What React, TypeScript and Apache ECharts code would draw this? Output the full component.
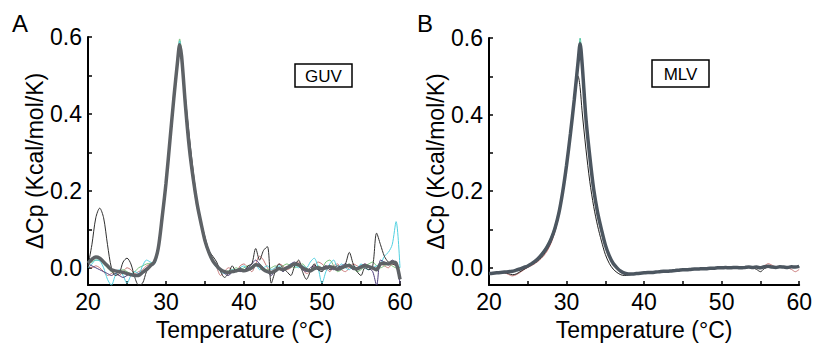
import React, { useEffect, useRef } from "react";
import * as echarts from "echarts";

// Temperatures (°C) shared by all traces
const temps = [
  20, 20.5, 21, 21.5, 22, 22.5, 23, 23.5, 24, 24.5,
  25, 25.5, 26, 26.5, 27, 27.5, 28, 28.5, 29, 29.5,
  30, 30.5, 31, 31.5, 31.75, 32, 32.5, 33, 33.5, 34, 34.5,
  35, 35.5, 36, 36.5, 37, 37.5, 38, 38.5, 39, 39.5,
  40, 40.5, 41, 41.5, 42, 42.5, 43, 43.5, 44, 44.5,
  45, 45.5, 46, 46.5, 47, 47.5, 48, 48.5, 49, 49.5,
  50, 50.5, 51, 51.5, 52, 52.5, 53, 53.5, 54, 54.5,
  55, 55.5, 56, 56.5, 57, 57.5, 58, 58.5, 59, 59.5,
  60,
];

// Panel A (GUV)
const guvMean = [
  0.012, 0.022, 0.028, 0.025, 0.015, 0.005, -0.005, -0.008, -0.01, -0.012,
  -0.015, -0.018, -0.02, -0.02, -0.012, -0.005, 0.005, 0.015, 0.05, 0.13,
  0.22, 0.33, 0.44, 0.54, 0.58, 0.55, 0.42, 0.31, 0.23, 0.165, 0.115,
  0.07, 0.04, 0.018, 0.005, -0.005, -0.01, -0.012, -0.01, -0.008, -0.005,
  -0.008, -0.005, 0.0, 0.008, 0.005, -0.005, -0.01, -0.012, -0.008, -0.002,
  -0.005, 0.0, 0.005, 0.01, 0.008, 0.0, -0.005, -0.008, -0.002, 0.0,
  -0.003, 0.0, 0.003, 0.0, -0.004, 0.0, 0.004, 0.006, 0.0, -0.003,
  0.002, 0.005, 0.003, 0.0, -0.005, 0.01, 0.012, 0.01, 0.015, 0.012,
  -0.03,
];
const guvBlack = [
  0.005, 0.06, 0.13, 0.155, 0.13, 0.06, 0.0, -0.02, -0.015, 0.015,
  0.025, 0.01, -0.025, -0.045, -0.04, -0.01, 0.005, 0.01, 0.05, 0.13,
  0.22, 0.33, 0.44, 0.54, 0.575, 0.55, 0.44, 0.34, 0.25, 0.17, 0.12,
  0.08, 0.045, 0.03, 0.015, -0.01, -0.025, -0.015, 0.005, -0.01, 0.0,
  -0.01, 0.005, 0.01, 0.05, 0.02, 0.045, 0.055, -0.04, -0.01, 0.01,
  0.0, -0.01, -0.02, 0.005, 0.02, -0.01, -0.03, -0.01, 0.01, -0.005,
  -0.01, 0.005, -0.005, 0.0, 0.005, 0.0, 0.01, 0.04, 0.01, -0.01,
  -0.02, 0.0, -0.005, 0.005, 0.09, 0.06, 0.03, 0.015, 0.01, 0.005,
  -0.03,
];
const guvCyan = [
  0.0, 0.01, 0.02, 0.018, 0.0, -0.03, -0.045, -0.02, -0.005, -0.02,
  -0.04, -0.02, -0.01, -0.015, 0.005, 0.02, 0.015, 0.01, 0.05, 0.13,
  0.22, 0.33, 0.44, 0.545, 0.59, 0.55, 0.42, 0.31, 0.23, 0.16, 0.11,
  0.065, 0.035, 0.015, 0.0, -0.01, -0.015, -0.01, -0.005, -0.01, 0.0,
  0.005, -0.005, 0.0, 0.01, -0.005, 0.0, 0.005, -0.005, 0.0, 0.005,
  -0.005, 0.0, 0.01, 0.005, 0.0, 0.005, 0.0, 0.015, 0.025, 0.0,
  -0.04, -0.01, 0.01, 0.02, 0.0, 0.01, 0.0, -0.005, 0.005, 0.0,
  0.01, 0.0, -0.005, 0.0, 0.005, 0.01, 0.03, 0.04, 0.06, 0.12,
  0.0,
];
const guvRed = [
  0.005, 0.0, 0.005, 0.0, -0.01, -0.02, -0.015, -0.01, -0.02, -0.01,
  0.0, -0.005, -0.015, -0.01, -0.005, 0.005, 0.01, 0.015, 0.05, 0.13,
  0.22, 0.33, 0.44, 0.54, 0.58, 0.55, 0.43, 0.32, 0.22, 0.155, 0.11,
  0.065, 0.035, 0.015, 0.0, -0.02, -0.01, 0.0, -0.005, -0.01, 0.005,
  0.01, 0.0, -0.01, 0.01, 0.03, 0.02, 0.0, -0.01, 0.0, 0.01,
  0.005, -0.005, 0.0, 0.01, 0.015, 0.0, -0.015, -0.01, 0.005, 0.015,
  0.01, 0.0, -0.01, 0.005, 0.01, -0.005, -0.01, 0.0, 0.01, 0.005,
  0.0, 0.01, 0.005, -0.005, 0.0, 0.01, 0.005, 0.0, 0.01, 0.005,
  0.0,
];
const guvGreen = [
  0.01, 0.015, 0.02, 0.02, 0.01, 0.0, -0.01, -0.015, -0.01, -0.005,
  -0.01, -0.015, -0.01, 0.0, 0.005, 0.01, 0.012, 0.015, 0.05, 0.135,
  0.225, 0.335, 0.445, 0.55, 0.595, 0.56, 0.42, 0.31, 0.225, 0.16, 0.11,
  0.07, 0.04, 0.02, 0.005, -0.005, -0.01, -0.008, -0.005, 0.0, -0.005,
  0.0, 0.005, 0.0, 0.005, 0.01, 0.0, -0.005, 0.0, 0.005, 0.0,
  0.005, 0.01, 0.005, 0.0, 0.005, 0.01, 0.0, -0.005, 0.0, 0.005,
  0.0, 0.015, 0.02, 0.005, -0.01, -0.005, 0.005, 0.01, 0.0, -0.01,
  -0.005, 0.005, 0.01, 0.015, 0.005, 0.0, 0.005, 0.01, 0.005, 0.0,
  0.0,
];
const guvNavy = [
  0.01, 0.005, 0.0, -0.005, -0.01, -0.015, -0.02, -0.015, -0.02, -0.025,
  -0.02, -0.015, -0.02, -0.015, -0.01, 0.0, 0.005, 0.01, 0.045, 0.125,
  0.215, 0.325, 0.435, 0.535, 0.575, 0.545, 0.42, 0.31, 0.235, 0.17, 0.12,
  0.075, 0.04, 0.02, 0.005, -0.005, -0.015, -0.02, -0.01, -0.005, -0.01,
  -0.005, 0.0, 0.01, 0.02, 0.01, 0.0, -0.01, -0.02, -0.005, 0.0,
  -0.01, 0.0, 0.01, 0.015, 0.005, -0.005, -0.01, 0.0, 0.005, -0.005,
  0.0, 0.005, 0.0, -0.005, 0.0, 0.005, 0.01, 0.005, -0.005, 0.0,
  0.005, 0.01, 0.0, -0.01, -0.045, 0.02, 0.015, 0.01, 0.02, 0.01,
  -0.04,
];

// Panel B (MLV)
const mlvMean = [
  -0.015, -0.014, -0.013, -0.012, -0.011, -0.01, -0.009, -0.006, -0.003, 0.001,
  0.005, 0.011, 0.018, 0.028, 0.04, 0.055, 0.075, 0.103, 0.142, 0.198,
  0.268, 0.35, 0.44, 0.54, 0.585, 0.535, 0.39, 0.29, 0.205, 0.145, 0.1,
  0.06, 0.032, 0.012, 0.0, -0.009, -0.014, -0.016, -0.016, -0.015, -0.014,
  -0.013, -0.012, -0.012, -0.011, -0.01, -0.009, -0.009, -0.008, -0.007, -0.006,
  -0.005, -0.005, -0.004, -0.003, -0.003, -0.002, -0.002, -0.001, -0.001, 0.0,
  0.0, 0.001, 0.0, 0.001, 0.001, 0.0, 0.001, 0.002, 0.001, 0.002,
  0.0, 0.003, 0.004, 0.002, 0.001, 0.003, 0.002, 0.001, 0.003, 0.002,
  0.004,
];
const mlvBlack = [
  -0.014, -0.014, -0.013, -0.013, -0.013, -0.015, -0.018, -0.016, -0.01, -0.004,
  0.002, 0.008, 0.014, 0.022, 0.033, 0.048, 0.068, 0.097, 0.138, 0.195,
  0.265, 0.345, 0.43, 0.5, 0.47, 0.41, 0.31, 0.225, 0.16, 0.11, 0.07,
  0.035, 0.012, -0.003, -0.012, -0.018, -0.02, -0.019, -0.017, -0.016, -0.015,
  -0.014, -0.013, -0.012, -0.012, -0.011, -0.01, -0.01, -0.009, -0.008, -0.007,
  -0.006, -0.006, -0.005, -0.004, -0.004, -0.003, -0.003, -0.002, -0.002, -0.001,
  -0.001, 0.0, 0.0, 0.0, 0.001, 0.0, 0.0, 0.001, 0.0, -0.004,
  -0.01, -0.002, 0.002, 0.003, 0.002, 0.002, 0.003, 0.002, 0.002, 0.003,
  0.003,
];
const mlvRed = [
  -0.013, -0.013, -0.012, -0.012, -0.013, -0.017, -0.021, -0.018, -0.012, -0.005,
  0.001, 0.006, 0.012, 0.02, 0.03, 0.044, 0.064, 0.094, 0.137, 0.196,
  0.267, 0.35, 0.44, 0.54, 0.58, 0.53, 0.39, 0.29, 0.205, 0.145, 0.1,
  0.06, 0.033, 0.013, 0.0, -0.009, -0.014, -0.017, -0.016, -0.015, -0.014,
  -0.013, -0.012, -0.011, -0.011, -0.01, -0.01, -0.009, -0.008, -0.007, -0.007,
  -0.006, -0.005, -0.004, -0.004, -0.003, -0.002, -0.002, -0.001, 0.0, 0.0,
  0.001, 0.0, 0.001, 0.002, 0.001, 0.0, 0.002, 0.001, 0.002, 0.003,
  0.002, 0.005, 0.011, 0.007, 0.002, 0.003, 0.002, 0.0, -0.004, -0.01,
  -0.004,
];
const mlvGreen = [
  -0.016, -0.015, -0.014, -0.012, -0.011, -0.01, -0.008, -0.005, -0.002, 0.002,
  0.007, 0.013, 0.021, 0.031, 0.044, 0.06, 0.081, 0.11, 0.15, 0.206,
  0.276, 0.357, 0.447, 0.548, 0.6, 0.54, 0.392, 0.292, 0.207, 0.146, 0.1,
  0.06, 0.031, 0.011, -0.001, -0.01, -0.015, -0.017, -0.016, -0.015, -0.014,
  -0.013, -0.013, -0.012, -0.011, -0.01, -0.01, -0.009, -0.008, -0.007, -0.007,
  -0.006, -0.005, -0.004, -0.004, -0.003, -0.002, -0.002, -0.001, 0.0, 0.0,
  0.0, 0.001, 0.001, 0.0, 0.002, 0.001, 0.002, 0.002, 0.001, 0.002,
  0.001, 0.003, 0.003, 0.002, 0.001, 0.002, 0.003, 0.002, 0.002, 0.003,
  0.003,
];

const xTicks = [20, 25, 30, 35, 40, 45, 50, 55, 60];
const yTicks = [0, 0.1, 0.2, 0.3, 0.4, 0.5, 0.6];
const yLabels = [0, 0.2, 0.4, 0.6];

const FONT = "Liberation Sans";
const INK = "#000";

const pair = (arr: number[]) => temps.map((t, i) => [t, arr[i]]);

function xAxis(gridIndex: number) {
  return {
    type: "value",
    gridIndex,
    min: 20,
    max: 60,
    interval: 10,
    name: "Temperature (°C)",
    nameLocation: "middle",
    nameGap: 26,
    nameTextStyle: { fontFamily: FONT, fontSize: 23, color: INK },
    axisLine: { onZero: false, lineStyle: { color: INK, width: 2 } },
    axisTick: { inside: true, length: 4, customValues: xTicks, lineStyle: { color: INK, width: 1.5 } },
    axisLabel: { fontFamily: FONT, fontSize: 23, color: INK, margin: 5 },
    splitLine: { show: false },
  };
}
function yAxis(gridIndex: number) {
  return {
    type: "value",
    gridIndex,
    min: -0.045,
    max: 0.6,
    name: "ΔCp (Kcal/mol/K)",
    nameLocation: "middle",
    nameGap: 40,
    nameTextStyle: { fontFamily: FONT, fontSize: 23, color: INK },
    axisLine: { show: true, lineStyle: { color: INK, width: 2 } },
    axisTick: { inside: true, length: 4, customValues: yTicks, lineStyle: { color: INK, width: 1.5 } },
    axisLabel: {
      fontFamily: FONT,
      fontSize: 23,
      color: INK,
      margin: 6,
      customValues: yLabels,
      formatter: (v: number) => v.toFixed(1),
    },
    splitLine: { show: false },
  };
}

function line(idx: number, data: number[], color: string, width: number, z = 2) {
  return {
    type: "line",
    xAxisIndex: idx,
    yAxisIndex: idx,
    data: pair(data),
    showSymbol: false,
    symbol: "none",
    smooth: 0.3,
    z,
    lineStyle: { color, width },
  };
}

export default function App() {
  const ref = useRef<HTMLDivElement>(null);
  useEffect(() => {
    document.body.style.margin = "0";
    const chart = echarts.init(ref.current!, null, { renderer: "svg" });
    chart.setOption({
      animation: false,
      backgroundColor: "#fff",
      grid: [
        { left: 88, top: 37, width: 312, height: 251 },
        { left: 489, top: 38, width: 312, height: 252 },
      ],
      xAxis: [xAxis(0), xAxis(1)],
      yAxis: [yAxis(0), yAxis(1)],
      series: [
        line(0, guvRed, "#c87878", 1),
        line(0, guvGreen, "#78c078", 1),
        line(0, guvCyan, "#50d0e0", 1),
        line(0, guvNavy, "#4a3a78", 1),
        line(0, guvBlack, "#303030", 1),
        line(0, guvMean, "#5e6266", 3.5, 3),
        line(1, mlvRed, "#c87878", 1),
        line(1, mlvGreen, "#50c8a0", 1),
        line(1, mlvBlack, "#202020", 1),
        line(1, mlvMean, "#4c5660", 3.5, 3),
      ],
      graphic: [
        { type: "text", left: 12, top: 11, style: { text: "A", fontFamily: FONT, fontSize: 24, fill: INK } },
        { type: "text", left: 417, top: 11, style: { text: "B", fontFamily: FONT, fontSize: 24, fill: INK } },
        { type: "rect", shape: { x: 295, y: 64, width: 57, height: 23 }, style: { fill: "#fff", stroke: INK, lineWidth: 1.5 }, z: 10 },
        { type: "text", x: 323.5, y: 76, z: 11, style: { text: "GUV", fontFamily: FONT, fontSize: 17, fill: INK, align: "center", verticalAlign: "middle" } },
        { type: "rect", shape: { x: 652, y: 60, width: 57, height: 27 }, style: { fill: "#fff", stroke: INK, lineWidth: 1.5 }, z: 10 },
        { type: "text", x: 680.5, y: 74, z: 11, style: { text: "MLV", fontFamily: FONT, fontSize: 17, fill: INK, align: "center", verticalAlign: "middle" } },
      ],
    });
    return () => chart.dispose();
  }, []);
  return <div ref={ref} style={{ width: 815, height: 346 }} />;
}
